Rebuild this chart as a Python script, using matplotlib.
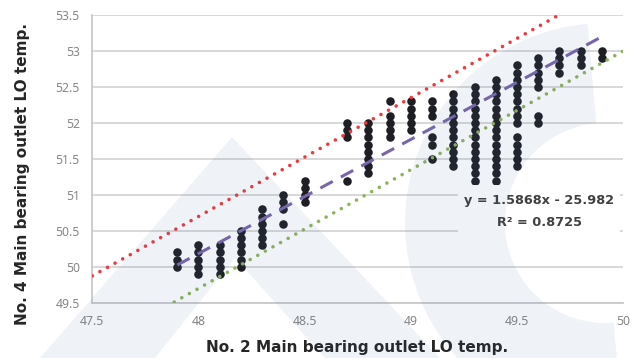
import matplotlib.pyplot as plt
from matplotlib.patches import Rectangle, Polygon, Wedge

plt.rcParams['font.family'] = ['Noto Sans', 'DejaVu Sans']

# bearing outlet temperatures: No. 2 (x) grouped by reading, No. 4 (y) values
x_cols = [47.9, 48.0, 48.1, 48.2, 48.3, 48.4, 48.5, 48.7, 48.8, 48.9,
          49.0, 49.1, 49.2, 49.3, 49.4, 49.5, 49.6, 49.7, 49.8, 49.9]
y_cols = [
    [50.0, 50.1, 50.2],
    [49.9, 50.0, 50.1, 50.2, 50.3],
    [49.9, 50.0, 50.1, 50.2, 50.3],
    [50.0, 50.1, 50.2, 50.3, 50.4, 50.5],
    [50.3, 50.4, 50.5, 50.6, 50.7, 50.8],
    [50.6, 50.8, 50.9, 51.0],
    [50.9, 51.0, 51.1, 51.2],
    [51.2, 51.8, 51.9, 52.0],
    [51.3, 51.4, 51.5, 51.6, 51.7, 51.8, 51.9, 52.0],
    [51.8, 51.9, 52.0, 52.1, 52.3],
    [51.9, 52.0, 52.1, 52.2, 52.3],
    [51.5, 51.7, 51.8, 52.1, 52.2, 52.3],
    [51.4, 51.5, 51.6, 51.7, 51.8, 51.9, 52.0, 52.1, 52.2, 52.3, 52.4],
    [51.2, 51.3, 51.4, 51.5, 51.6, 51.7, 51.8, 51.9, 52.0, 52.1, 52.2, 52.3, 52.4, 52.5],
    [51.2, 51.3, 51.4, 51.5, 51.6, 51.7, 51.8, 51.9, 52.0, 52.1, 52.2, 52.3, 52.4, 52.5, 52.6],
    [51.4, 51.5, 51.6, 51.7, 51.8, 52.0, 52.1, 52.2, 52.3, 52.4, 52.5, 52.6, 52.7, 52.8],
    [52.0, 52.1, 52.5, 52.6, 52.7, 52.8, 52.9],
    [52.7, 52.8, 52.9, 53.0],
    [52.8, 52.9, 53.0],
    [52.9, 53.0],
]

# linear trend (from the fitted equation) and upper / lower guide lines
slope, intercept, r2 = 1.5868, -25.982, 0.8725
trend_x = [47.9, 49.9]
upper_x = [47.5, 49.7]
upper_slope, upper_icpt = 1.65, -28.5
lower_x = [47.85, 50.0]
lower_slope, lower_icpt = 1.65, -29.5

x_ticks = [47.5, 48, 48.5, 49, 49.5, 50]
y_ticks = [49.5, 50, 50.5, 51, 51.5, 52, 52.5, 53, 53.5]

xs = [x for x, col in zip(x_cols, y_cols) for _ in col]
ys = [y for col in y_cols for y in col]

fig = plt.figure(figsize=(6.32, 3.58), dpi=100)
ax = fig.add_axes([0.146, 0.154, 0.84, 0.804])

ax.scatter(xs, ys, s=38, color='#1e1f24', zorder=3, linewidths=0)

ax.plot(upper_x, [upper_slope * x + upper_icpt for x in upper_x],
        color='#ee3a3e', lw=2.6, linestyle=(0, (0.01, 2.4)),
        dash_capstyle='round', zorder=4)
ax.plot(lower_x, [lower_slope * x + lower_icpt for x in lower_x],
        color='#8db35c', lw=2.6, linestyle=(0, (0.01, 2.4)),
        dash_capstyle='round', zorder=4)
ax.plot(trend_x, [slope * x + intercept for x in trend_x],
        color='#7866ab', lw=2.2, linestyle=(0, (4.6, 3.0)), zorder=4)

ax.set_xlim(47.5, 50)
ax.set_ylim(49.5, 53.5)
ax.set_xticks(x_ticks)
ax.set_yticks(y_ticks)
ax.set_xticklabels([f'{t:g}' for t in x_ticks])
ax.set_yticklabels([f'{t:g}' for t in y_ticks])
ax.tick_params(length=0, labelsize=8.8, labelcolor='#858585')
ax.tick_params(axis='y', pad=9)
ax.tick_params(axis='x', pad=9)
ax.grid(axis='y', color='#d6d6d6', lw=1.3)
ax.set_axisbelow(True)
for side in ['top', 'right']:
    ax.spines[side].set_visible(False)
for side in ['left', 'bottom']:
    ax.spines[side].set_color('#c8c8c8')
    ax.spines[side].set_linewidth(1.3)

bold = dict(family='DejaVu Sans', fontweight='bold')

# trendline label on a white box
ax.add_patch(Rectangle((0.689, 0.22), 0.305, 0.19, transform=ax.transAxes,
                       facecolor='white', edgecolor='none', zorder=5))
ax.text(0.842, 0.355, f'y = {slope}x - {abs(intercept)}', transform=ax.transAxes,
        ha='center', va='center', fontsize=9.3, color='#404040', zorder=6, **bold)
ax.text(0.842, 0.28, f'R² = {r2}', transform=ax.transAxes,
        ha='center', va='center', fontsize=9.3, color='#404040', zorder=6, **bold)

fig.text(0.565, 0.03, 'No. 2 Main bearing outlet LO temp.', ha='center',
         va='center', fontsize=11, color='#262626', **bold)
fig.text(0.035, 0.515, 'No. 4 Main bearing outlet LO temp.', ha='center',
         va='center', rotation=90, fontsize=11, color='#262626', **bold)

# faint logo watermark over the chart (inch coordinates)
wm = dict(facecolor='#3f6fb0', edgecolor='none', alpha=0.08,
          transform=fig.dpi_scale_trans, zorder=10)
fig.patches.append(Polygon([(0.40, 0.0), (2.32, 2.21), (4.40, 0.0),
                            (3.25, 0.0), (2.35, 1.00), (1.55, 0.0)], **wm))
fig.patches.append(Wedge((6.05, 1.35), 2.0, 95, 275, width=1.0, **wm))

fig.savefig('out.png', dpi=100)
